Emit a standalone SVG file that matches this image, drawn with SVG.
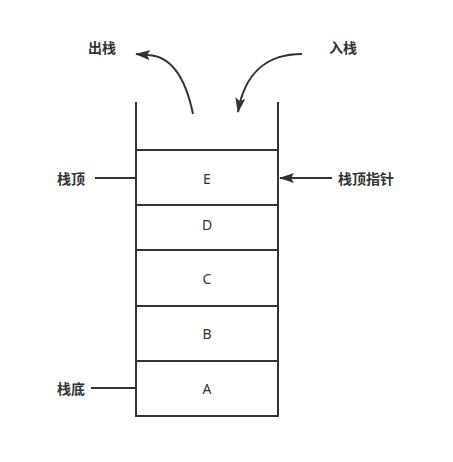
<svg xmlns="http://www.w3.org/2000/svg" width="453" height="462" viewBox="0 0 453 462">
<style>
.ln{stroke:#333;stroke-width:2;fill:none}
.cell{fill:#fff;stroke:#333;stroke-width:2}
.lab{font-family:"Noto Sans CJK SC","Noto Sans",sans-serif;font-size:14px;font-weight:bold;fill:#333;dominant-baseline:central}
.let{font-family:"Noto Sans","Liberation Sans",sans-serif;font-size:14px;fill:#333;text-anchor:middle;dominant-baseline:central}
</style>
<defs>
<marker id="ah" viewBox="0 0 15 10" refX="14" refY="5" markerWidth="15" markerHeight="10" orient="auto" markerUnits="userSpaceOnUse">
<path d="M0,0 L15,5 L0,10 L3,5 Z" fill="#333"/>
</marker>
</defs>
<g id="stack">
<line class="ln" x1="136" y1="102" x2="136" y2="416"/>
<line class="ln" x1="278" y1="102" x2="278" y2="416"/>
</g>
<g id="cellE"><rect class="cell" x="136" y="150" width="142" height="55"/><text class="let" x="207" y="178">E</text></g>
<g id="cellD"><rect class="cell" x="136" y="205" width="142" height="45"/><text class="let" x="207" y="224">D</text></g>
<g id="cellC"><rect class="cell" x="136" y="250" width="142" height="56"/><text class="let" x="207" y="278">C</text></g>
<g id="cellB"><rect class="cell" x="136" y="306" width="142" height="55"/><text class="let" x="207" y="333">B</text></g>
<g id="cellA"><rect class="cell" x="136" y="361" width="142" height="55"/><text class="let" x="207" y="388">A</text></g>
<g id="labels">
<text class="lab" x="88" y="47">出栈</text>
<text class="lab" x="329" y="47">入栈</text>
<text class="lab" x="57" y="178">栈顶</text>
<text class="lab" x="338" y="178">栈顶指针</text>
<text class="lab" x="57" y="388">栈底</text>
</g>
<g id="connectors">
<path class="ln" d="M193,114 C186,80 172,56 148,55 L136,54" marker-end="url(#ah)"/>
<path class="ln" d="M302,54 C270,54 245,70 238,112" marker-end="url(#ah)"/>
<line class="ln" x1="95" y1="178" x2="136" y2="178"/>
<line class="ln" x1="332" y1="178" x2="280" y2="178" marker-end="url(#ah)"/>
<line class="ln" x1="91" y1="388" x2="136" y2="388"/>
</g>
</svg>
